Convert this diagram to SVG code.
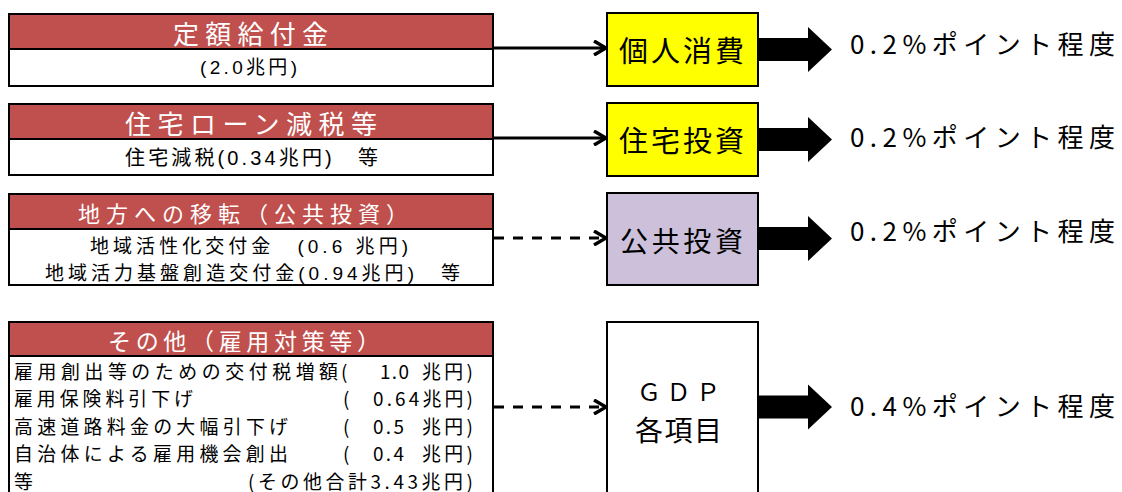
<svg xmlns="http://www.w3.org/2000/svg" width="1122" height="492" viewBox="0 0 1122 492">
<style>
text{font-family:"Noto Sans CJK JP","Noto Sans CJK SC",sans-serif;fill:#000}
.sm{font-family:"Liberation Sans","Noto Sans CJK JP",sans-serif}
.hd{fill:#C0504D;stroke:#000;stroke-width:2}
.bd{fill:#fff;stroke:#000;stroke-width:2}
.ht{fill:#fff}
.yl{fill:#FFFF00;stroke:#000;stroke-width:2}
.pu{fill:#CCC0DA;stroke:#000;stroke-width:2}
.wh{fill:#fff;stroke:#000;stroke-width:2}
.ln{stroke:#000;stroke-width:3;fill:none}
.ds{stroke-dasharray:10 9}
.res{font-size:26px}
</style>
<defs>
<marker id="chev" markerUnits="userSpaceOnUse" viewBox="0 0 16 16" markerWidth="16" markerHeight="16" refX="14" refY="8" orient="auto">
<path d="M2,1 L14,8 L2,15" fill="none" stroke="#000" stroke-width="3.5"/>
</marker>
<path id="blk" d="M0,-11.5 H51 V-22.5 L75,0 L51,22.5 V11.5 H0 Z" fill="#000"/>
</defs>

<g id="connectors">
<line class="ln" x1="494" y1="48" x2="606" y2="48" marker-end="url(#chev)"/>
<line class="ln" x1="494" y1="138" x2="606" y2="138" marker-end="url(#chev)"/>
<line class="ln ds" x1="494" y1="238" x2="606" y2="238" marker-end="url(#chev)"/>
<line class="ln ds" x1="494" y1="407" x2="606" y2="407" marker-end="url(#chev)"/>
<use href="#blk" x="757" y="49.5"/>
<use href="#blk" x="757" y="139.5"/>
<use href="#blk" x="757" y="238.5"/>
<use href="#blk" x="757" y="407"/>
</g>

<g id="src1">
<rect class="hd" x="9" y="14" width="484" height="35"/>
<rect class="bd" x="9" y="49" width="484" height="37"/>
<text class="ht" x="173" y="44" font-size="26" textLength="155" lengthAdjust="spacing">定額給付金</text>
<text class="sm" x="200" y="74" font-size="19" textLength="97" lengthAdjust="spacing">(2.0兆円)</text>
</g>

<g id="src2">
<rect class="hd" x="9" y="104" width="484" height="35"/>
<rect class="bd" x="9" y="139" width="484" height="36"/>
<text class="ht" x="125" y="134" font-size="26" textLength="252" lengthAdjust="spacing">住宅ローン減税等</text>
<text class="sm" x="125" y="165" font-size="20" textLength="253" lengthAdjust="spacing">住宅減税(0.34兆円)　等</text>
</g>

<g id="src3">
<rect class="hd" x="9" y="194" width="484" height="35"/>
<rect class="bd" x="9" y="229" width="484" height="56"/>
<text class="ht" x="78" y="222" font-size="22" textLength="330" lengthAdjust="spacing">地方への移転（公共投資）</text>
<text class="sm" x="90" y="252.5" font-size="19" textLength="318" lengthAdjust="spacing">地域活性化交付金　(0.6 兆円)</text>
<text class="sm" x="45" y="280.2" font-size="19" textLength="415" lengthAdjust="spacing">地域活力基盤創造交付金(0.94兆円)　等</text>
</g>

<g id="src4">
<rect class="hd" x="9" y="322" width="484" height="34"/>
<rect class="bd" x="9" y="356" width="484" height="150"/>
<text class="ht" x="108" y="350" font-size="23" textLength="272" lengthAdjust="spacing">その他（雇用対策等）</text>
<g class="sm" font-size="18.9">
<text x="14" y="379" textLength="324" lengthAdjust="spacing">雇用創出等のための交付税増額</text>
<text x="341" y="379">(</text>
<text x="380" y="379" textLength="29" lengthAdjust="spacing">1.0</text>
<text x="473" y="379" text-anchor="end" textLength="51" lengthAdjust="spacing">兆円)</text>
<text x="14" y="406.4" textLength="179" lengthAdjust="spacing">雇用保険料引下げ</text>
<text x="343" y="406.4">(</text>
<text x="373" y="406.4" textLength="100" lengthAdjust="spacing">0.64兆円)</text>
<text x="14" y="433.8" textLength="274" lengthAdjust="spacing">高速道路料金の大幅引下げ</text>
<text x="343" y="433.8">(</text>
<text x="373" y="433.8" textLength="31" lengthAdjust="spacing">0.5</text>
<text x="473" y="433.8" text-anchor="end" textLength="51" lengthAdjust="spacing">兆円)</text>
<text x="14" y="461.2" textLength="274" lengthAdjust="spacing">自治体による雇用機会創出</text>
<text x="343" y="461.2">(</text>
<text x="373" y="461.2" textLength="31" lengthAdjust="spacing">0.4</text>
<text x="473" y="461.2" text-anchor="end" textLength="51" lengthAdjust="spacing">兆円)</text>
<text x="14" y="488.6">等</text>
<text x="248" y="488.6" textLength="225" lengthAdjust="spacing">(その他合計3.43兆円)</text>
</g>
</g>

<g id="n-consumption">
<rect class="yl" x="607" y="13" width="151" height="73"/>
<text x="619" y="62" font-size="29" textLength="125" lengthAdjust="spacing">個人消費</text>
</g>
<g id="n-housing">
<rect class="yl" x="607" y="103" width="151" height="73"/>
<text x="619" y="152" font-size="29" textLength="125" lengthAdjust="spacing">住宅投資</text>
</g>
<g id="n-public">
<rect class="pu" x="607" y="193" width="151" height="92"/>
<text x="620" y="252" font-size="28" textLength="123" lengthAdjust="spacing">公共投資</text>
</g>
<g id="n-gdp">
<rect class="wh" x="607" y="322" width="151" height="190"/>
<text x="637" y="401" font-size="24" textLength="83" lengthAdjust="spacing">ＧＤＰ</text>
<text x="635" y="441" font-size="28" textLength="87" lengthAdjust="spacing">各項目</text>
</g>

<g id="results">
<text class="res" x="850" y="54" textLength="265" lengthAdjust="spacing">0.2%ポイント程度</text>
<text class="res" x="850" y="147" textLength="265" lengthAdjust="spacing">0.2%ポイント程度</text>
<text class="res" x="850" y="241" textLength="265" lengthAdjust="spacing">0.2%ポイント程度</text>
<text class="res" x="850" y="416" textLength="265" lengthAdjust="spacing">0.4%ポイント程度</text>
</g>
</svg>
